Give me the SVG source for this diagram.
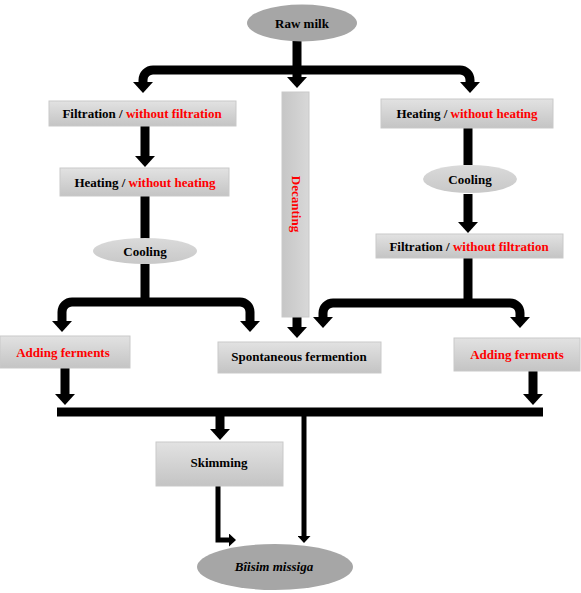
<svg xmlns="http://www.w3.org/2000/svg" width="581" height="593" viewBox="0 0 581 593">
<defs>
<linearGradient id="gbox" x1="0" y1="0" x2="0" y2="1"><stop offset="0" stop-color="#e2e2e2"/><stop offset="1" stop-color="#c4c4c4"/></linearGradient>
<linearGradient id="gvert" x1="0" y1="0" x2="1" y2="0"><stop offset="0" stop-color="#c6c6c6"/><stop offset="1" stop-color="#d8d8d8"/></linearGradient>
<linearGradient id="gcool" x1="0" y1="0" x2="0" y2="1"><stop offset="0" stop-color="#dadada"/><stop offset="1" stop-color="#c8c8c8"/></linearGradient>
<marker id="ah" viewBox="0 0 11 20" refX="0" refY="10" markerWidth="11" markerHeight="20" markerUnits="userSpaceOnUse" orient="auto"><path d="M0 0 L11 10 L0 20 Z" fill="#000"/></marker>
<marker id="ahs" viewBox="0 0 7 13" refX="0" refY="6.5" markerWidth="7" markerHeight="13" markerUnits="userSpaceOnUse" orient="auto"><path d="M0 0 L7 6.5 L0 13 Z" fill="#000"/></marker>
<style>
.box{fill:url(#gbox);stroke:#c9c9c9;stroke-width:1}
.t{font-family:"Liberation Serif","Times New Roman",serif;font-weight:bold;font-size:13px;fill:#000;text-anchor:middle}
.r{fill:#ff0000}
.c{fill:none;stroke:#000;stroke-width:9;stroke-linejoin:miter}
.a{marker-end:url(#ah)}
.cs{fill:none;stroke:#000;stroke-width:5;marker-end:url(#ahs)}
</style>
</defs>
<g id="connectors">
<path class="c a" d="M297 41 V77"/>
<path class="c a" d="M297 70 H153 A10 10 0 0 0 143 80 V82"/>
<path class="c a" d="M297 70 H460 A10 10 0 0 1 470 80 V82"/>
<path class="c a" d="M145 126 V156"/>
<path class="c" d="M145 196 V239"/>
<path class="c" d="M145 264 V302"/>
<path class="c a" d="M145 302 H72 A10 10 0 0 0 62 312 V321"/>
<path class="c a" d="M145 302 H240 A10 10 0 0 1 250 312 V321"/>
<path class="c" d="M468 128 V165"/>
<path class="c a" d="M468 194 V222"/>
<path class="c" d="M468 258 V303"/>
<path class="c a" d="M468 303 H333 A10 10 0 0 0 323 313 V317"/>
<path class="c a" d="M468 303 H510 A10 10 0 0 1 520 313 V317"/>
<path class="c a" d="M297 317 V327"/>
<path class="c a" d="M65 368 V394"/>
<path class="c a" d="M533 371 V394"/>
<path class="c" d="M57 412 H543"/>
<path class="c a" d="M220 412 V429"/>
<path class="cs" d="M304 412 V536"/>
<path class="cs" d="M218 486 V540 H229"/>
</g>
<g id="raw-milk"><ellipse cx="302" cy="23" rx="55" ry="18.5" fill="#a6a6a6"/><text class="t" x="302" y="28">Raw milk</text></g>
<g id="filtration-left"><rect class="box" x="49" y="101" width="187" height="25"/><text class="t" x="142" y="118">Filtration / <tspan class="r">without filtration</tspan></text></g>
<g id="heating-left"><rect class="box" x="60" y="168" width="169" height="28"/><text class="t" x="145" y="187">Heating / <tspan class="r">without heating</tspan></text></g>
<g id="cooling-left"><ellipse cx="145" cy="251" rx="52" ry="13" fill="url(#gcool)"/><text class="t" x="145" y="256">Cooling</text></g>
<g id="decanting"><rect x="282" y="92" width="27" height="225" fill="url(#gvert)" stroke="#c9c9c9"/><text class="t r" transform="translate(296 204) rotate(90)" x="0" y="4.5">Decanting</text></g>
<g id="heating-right"><rect class="box" x="381" y="99" width="172" height="29"/><text class="t" x="467" y="118">Heating / <tspan class="r">without heating</tspan></text></g>
<g id="cooling-right"><ellipse cx="470" cy="179" rx="47" ry="14" fill="url(#gcool)"/><text class="t" x="470" y="184">Cooling</text></g>
<g id="filtration-right"><rect class="box" x="376" y="234" width="187" height="24"/><text class="t" x="469" y="251">Filtration / <tspan class="r">without filtration</tspan></text></g>
<g id="adding-left"><rect class="box" x="0" y="336" width="130" height="32"/><text class="t r" x="63" y="357">Adding ferments</text></g>
<g id="spontaneous"><rect class="box" x="218" y="342" width="163" height="31"/><text class="t" x="299" y="361">Spontaneous fermention</text></g>
<g id="adding-right"><rect class="box" x="454" y="338" width="126" height="33"/><text class="t r" x="517" y="359">Adding ferments</text></g>
<g id="skimming"><rect class="box" x="156" y="442" width="127" height="44"/><text class="t" x="219" y="467">Skimming</text></g>
<g id="biisim"><ellipse cx="275" cy="567" rx="78" ry="23" fill="#a6a6a6"/><text class="t" x="274" y="571" font-style="italic">Bîisim missiga</text></g>
</svg>
